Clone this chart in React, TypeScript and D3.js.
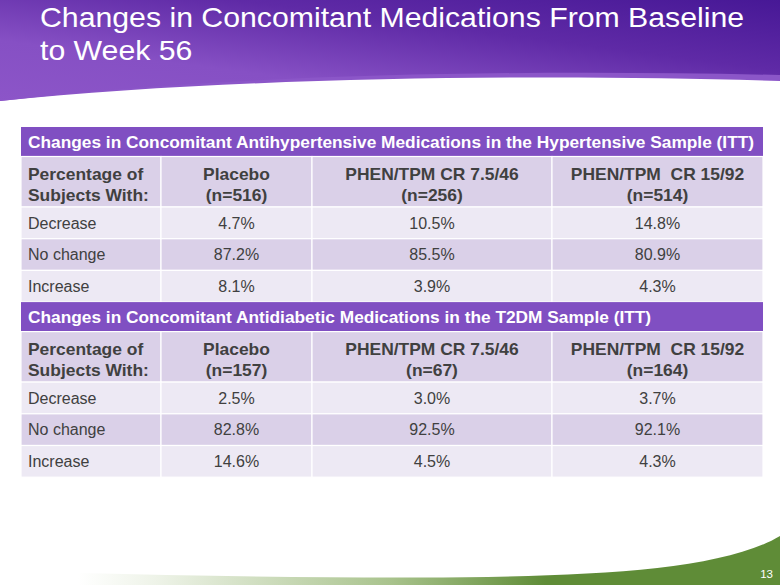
import React from "react";
import * as d3 from "d3";

const titleLines = ["Changes in Concomitant Medications From Baseline", "to Week 56"];
const sectionTitles = [
  "Changes in Concomitant Antihypertensive Medications in the Hypertensive Sample (ITT)",
  "Changes in Concomitant Antidiabetic Medications in the T2DM Sample (ITT)",
];
const rowHeaderLines = ["Percentage of", "Subjects With:"];
const groupNames = ["Placebo", "PHEN/TPM CR 7.5/46", "PHEN/TPM  CR 15/92"];
const groupN1 = ["(n=516)", "(n=256)", "(n=514)"];
const groupN2 = ["(n=157)", "(n=67)", "(n=164)"];
const categories = ["Decrease", "No change", "Increase"];
const hyperValues = [
  [4.7, 10.5, 14.8],
  [87.2, 85.5, 80.9],
  [8.1, 3.9, 4.3],
];
const diabValues = [
  [2.5, 3.0, 3.7],
  [82.8, 92.5, 92.1],
  [14.6, 4.5, 4.3],
];
const pageNumber = "13";

const W = 780;
const H = 585;
const colEdges = [21, 161, 312, 552, 763];
const TITLE_H = 29.5;
const HEAD_H = 50.5;
const ROW_H = 31.7;

const PURPLE = "#804FC2";
const DARK = "#DAD0E8";
const LIGHT = "#EDE9F4";
const TEXT = "#404040";
const FONT = "'Liberation Sans', Arial, sans-serif";
const BOLD_SX = 1.09;

type Row =
  | { kind: "title"; text: string }
  | { kind: "head"; ns: string[] }
  | { kind: "data"; label: string; values: number[] };

const sections = [
  { title: sectionTitles[0], ns: groupN1, values: hyperValues },
  { title: sectionTitles[1], ns: groupN2, values: diabValues },
];

function T(props: {
  x: number;
  y: number;
  sx?: number;
  size: number;
  fill: string;
  bold?: boolean;
  anchor?: "start" | "middle" | "end";
  children: React.ReactNode;
}) {
  const { x, y, sx = 1, size, fill, bold, anchor = "start", children } = props;
  return (
    <text
      transform={`translate(${x},${y}) scale(${sx},1)`}
      fill={fill}
      fontSize={size}
      fontWeight={bold ? "bold" : "normal"}
      textAnchor={anchor}
      style={{ whiteSpace: "pre" }}
    >
      {children}
    </text>
  );
}

export default function App() {
  const fmt = d3.format(".1f");
  const rows: Row[] = [];
  sections.forEach((s) => {
    rows.push({ kind: "title", text: s.title });
    rows.push({ kind: "head", ns: s.ns });
    categories.forEach((c, i) => rows.push({ kind: "data", label: c, values: s.values[i] }));
  });
  const heights = rows.map((r) => (r.kind === "title" ? TITLE_H : r.kind === "head" ? HEAD_H : ROW_H));
  const tops: number[] = [];
  let acc = 127;
  heights.forEach((h) => {
    tops.push(acc);
    acc += h;
  });

  let band = 0;
  const x0 = colEdges[0];
  const x1 = colEdges[colEdges.length - 1];

  return (
    <svg
      width={W}
      height={H}
      style={{ position: "fixed", left: 0, top: 0, background: "#fff" }}
      fontFamily={FONT}
    >
      <defs>
        <linearGradient id="ban" x1="0" y1="1" x2="1" y2="0">
          <stop offset="0" stopColor="#8C55C8" />
          <stop offset="0.3" stopColor="#8650C4" />
          <stop offset="0.65" stopColor="#5F2AA6" />
          <stop offset="1" stopColor="#471896" />
        </linearGradient>
        <linearGradient id="grn" x1="0" y1="0" x2="780" y2="0" gradientUnits="userSpaceOnUse">
          <stop offset="0.1" stopColor="#ffffff" />
          <stop offset="0.2" stopColor="#EEF3E8" />
          <stop offset="0.5" stopColor="#A9C38D" />
          <stop offset="0.7" stopColor="#5F8C37" />
          <stop offset="1" stopColor="#5F8C37" />
        </linearGradient>
      </defs>
      <rect width={W} height={H} fill="#fff" />
      {/* top banner */}
      <path d="M0,0 H780 V81 C 560,74 240,76 0,101 Z" fill="#8B56C8" />
      <path d="M0,0 H780 V75 C 520,69 230,74 0,101 Z" fill="url(#ban)" />
      {titleLines.map((t, i) => (
        <T key={i} x={40} y={27 + i * 33} sx={1.1} size={27.5} fill="#fff">
          {t}
        </T>
      ))}
      {/* bottom green */}
      <path d="M0,585 V571 Q 250,578 420,577.5 C 580,577 720,572 780,536 V585 Z" fill="url(#grn)" />
      <T x={773} y={578} size={11.5} fill="#fff" anchor="end">
        {pageNumber}
      </T>

      {/* table */}
      {rows.map((r, ri) => {
        const y = tops[ri];
        const h = heights[ri];
        if (r.kind === "title") {
          return (
            <g key={ri}>
              <rect x={x0} y={y} width={x1 - x0} height={h} fill={PURPLE} />
              <T x={28} y={y + h / 2 + 5.8} sx={1.082} size={16} fill="#fff" bold>
                {r.text}
              </T>
            </g>
          );
        }
        const fill = band % 2 === 0 ? DARK : LIGHT;
        band++;
        const cells = colEdges.slice(0, -1).map((cx, ci) => (
          <rect
            key={ci}
            x={cx}
            y={y}
            width={colEdges[ci + 1] - cx}
            height={h}
            fill={fill}
            stroke="#fff"
            strokeWidth={1.2}
          />
        ));
        if (r.kind === "head") {
          return (
            <g key={ri}>
              {cells}
              {rowHeaderLines.map((l, li) => (
                <T key={li} x={28} y={y + 23.3 + li * 20.8} sx={BOLD_SX} size={16} fill={TEXT} bold>
                  {l}
                </T>
              ))}
              {groupNames.map((g, gi) => {
                const cx = (colEdges[gi + 1] + colEdges[gi + 2]) / 2;
                return (
                  <g key={gi}>
                    <T x={cx} y={y + 23.3} sx={BOLD_SX} size={16} fill={TEXT} bold anchor="middle">
                      {g}
                    </T>
                    <T x={cx} y={y + 44.1} sx={BOLD_SX} size={16} fill={TEXT} bold anchor="middle">
                      {r.ns[gi]}
                    </T>
                  </g>
                );
              })}
            </g>
          );
        }
        return (
          <g key={ri}>
            {cells}
            <T x={28} y={y + h / 2 + 5.8} size={16} fill={TEXT}>
              {r.label}
            </T>
            {r.values.map((v, vi) => {
              const cx = (colEdges[vi + 1] + colEdges[vi + 2]) / 2;
              return (
                <T key={vi} x={cx} y={y + h / 2 + 5.8} size={16} fill={TEXT} anchor="middle">
                  {fmt(v) + "%"}
                </T>
              );
            })}
          </g>
        );
      })}
    </svg>
  );
}
